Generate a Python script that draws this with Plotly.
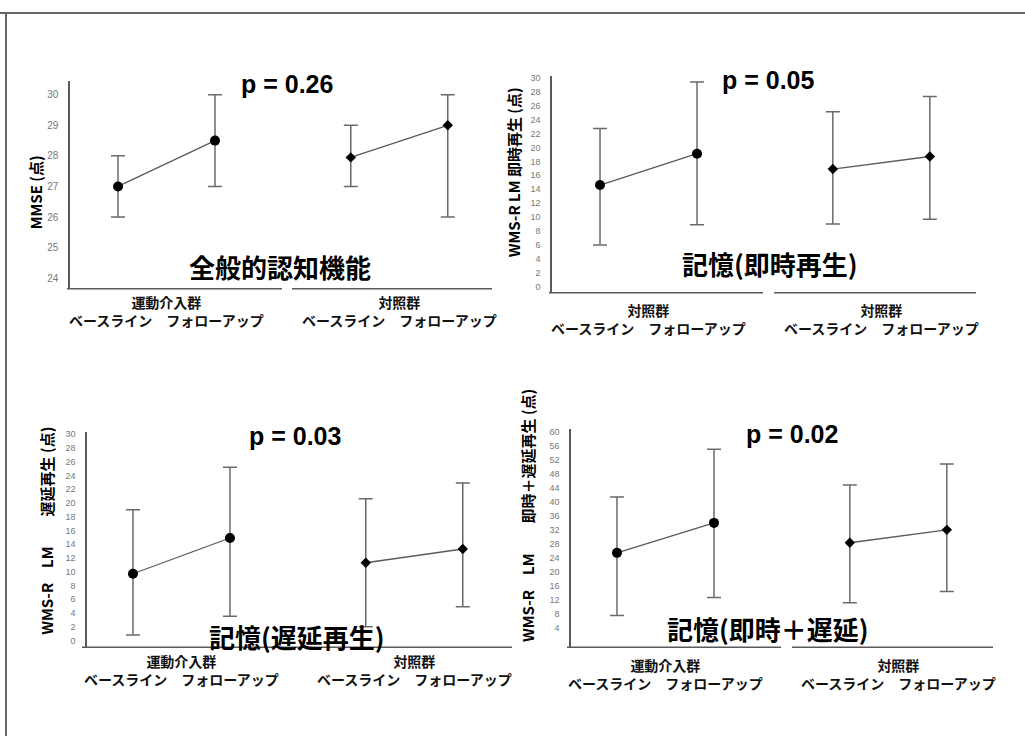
import plotly.graph_objects as go

W, H = 1025, 736

# ---------------- data ----------------
groups_p1 = ["運動介入群", "対照群"]
groups_p2 = ["対照群", "対照群"]
groups_p3 = ["運動介入群", "対照群"]
groups_p4 = ["運動介入群", "対照群"]
times = ["ベースライン", "フォローアップ"]

p_labels = ["p = 0.26", "p = 0.05", "p = 0.03", "p = 0.02"]
panel_titles = ["全般的認知機能", "記憶(即時再生)", "記憶(遅延再生)", "記憶(即時＋遅延)"]
y_titles = ["MMSE (点)", "WMS-R LM 即時再生 (点)", "WMS-R　LM　　遅延再生 (点)", "WMS-R　LM　　即時＋遅延再生 (点)"]

# values per panel: [ex base, ex follow, ctrl base, ctrl follow]
mmse_mean = [27.0, 28.5, 27.95, 29.0]
mmse_upper = [28.0, 30.0, 29.0, 30.0]
mmse_lower = [26.0, 27.0, 27.0, 26.0]

imm_mean = [14.6, 19.1, 16.9, 18.7]
imm_upper = [22.7, 29.4, 25.1, 27.3]
imm_lower = [6.0, 8.9, 9.0, 9.7]

del_mean = [9.7, 14.9, 11.3, 13.3]
del_upper = [19.0, 25.2, 20.6, 22.9]
del_lower = [0.8, 3.5, 2.0, 4.9]

tot_mean = [25.4, 34.0, 28.3, 32.0]
tot_upper = [41.4, 55.1, 44.9, 50.9]
tot_lower = [7.4, 12.6, 11.1, 14.3]

ticks_p1 = [24, 25, 26, 27, 28, 29, 30]
ticks_p23 = list(range(0, 31, 2))
ticks_p4 = list(range(4, 61, 4))

# ---------------- layout helpers ----------------
def PX(x):
    return x / W

def PY(y):
    return 1 - y / H

GROUP_GAP = 2.4

panels = [
    dict(groups=groups_p1, mean=mmse_mean, up=mmse_upper, lo=mmse_lower, ticks=ticks_p1,
         dom_x=(70, 492), dom_y=(78, 287), yr=(23.65, 30.46), xr=(-0.495, 3.856),
         segs=[(67, 282), (292, 492)], lab_y=309,
         p_pos=(287, 81), t_pos=(280, 265), yt_pos=(35, 190), tickfont=10),
    dict(groups=groups_p2, mean=imm_mean, up=imm_upper, lo=imm_lower, ticks=ticks_p23,
         dom_x=(552, 976), dom_y=(73, 291), yr=(-0.86, 30.29), xr=(-0.495, 3.876),
         segs=[(549, 763), (774, 976)], lab_y=317,
         p_pos=(768, 77), t_pos=(770, 262), yt_pos=(513, 170), tickfont=9),
    dict(groups=groups_p3, mean=del_mean, up=del_upper, lo=del_lower, ticks=ticks_p23,
         dom_x=(87, 510), dom_y=(431, 647), yr=(-1.01, 30.29), xr=(-0.474, 3.887),
         segs=[(82, 512)], lab_y=670,
         p_pos=(295, 435), t_pos=(297, 636), yt_pos=(47, 530), tickfont=9),
    dict(groups=groups_p4, mean=tot_mean, up=tot_upper, lo=tot_lower, ticks=ticks_p4,
         dom_x=(571, 993), dom_y=(428, 647), yr=(-1.71, 60.86), xr=(-0.474, 3.876),
         segs=[(567, 781), (792, 993)], lab_y=674,
         p_pos=(792, 433), t_pos=(768, 628), yt_pos=(528, 515), tickfont=9),
]

fig = go.Figure()
shapes = []
annotations = []
layout = {}

LINE_COL = "#5a5a5a"
ERR_COL = "#6a6a6a"
JP = "Noto Sans CJK JP"
LAT = "Liberation Sans"

for i, p in enumerate(panels):
    n = "" if i == 0 else str(i + 1)
    xa, ya = "x" + n, "y" + n
    for g in range(2):
        xs = [g * GROUP_GAP + t for t in range(len(times))]
        ys = p["mean"][2 * g:2 * g + 2]
        ups = [u - m for u, m in zip(p["up"][2 * g:2 * g + 2], ys)]
        los = [m - l for l, m in zip(p["lo"][2 * g:2 * g + 2], ys)]
        fig.add_trace(go.Scatter(
            x=xs, y=ys, xaxis=xa, yaxis=ya, mode="lines+markers",
            line=dict(color=LINE_COL, width=1.3),
            marker=dict(symbol="circle" if g == 0 else "diamond",
                        size=10 if g == 0 else 8, color="black"),
            error_y=dict(type="data", symmetric=False, array=ups, arrayminus=los,
                         color=ERR_COL, thickness=1.5, width=7),
            showlegend=False, hoverinfo="skip"))
        # group + time labels (two centred lines)
        annotations.append(dict(x=(xs[0] + xs[1]) / 2, y=PY(p["lab_y"]), xref=xa, yref="paper",
                                text="<b>%s<br>%s</b>" % (p["groups"][g], "　".join(times)),
                                showarrow=False, align="center",
                                font=dict(family=JP, size=14, color="#111"),
                                xanchor="center", yanchor="middle"))
    layout["xaxis" + n] = dict(domain=[PX(p["dom_x"][0]), PX(p["dom_x"][1])],
                               range=list(p["xr"]), anchor=ya, showline=False,
                               showgrid=False, zeroline=False, showticklabels=False,
                               ticks="", fixedrange=True)
    layout["yaxis" + n] = dict(domain=[PY(p["dom_y"][1]), PY(p["dom_y"][0])],
                               range=list(p["yr"]), anchor=xa, showline=True,
                               linecolor=LINE_COL, linewidth=1.5, showgrid=False,
                               zeroline=False, tickvals=p["ticks"],
                               ticktext=[str(v) for v in p["ticks"]],
                               ticks="", ticklabelstandoff=8,
                               tickfont=dict(family=LAT, size=p["tickfont"], color="#777"),
                               fixedrange=True)
    for s0, s1 in p["segs"]:
        shapes.append(dict(type="line", xref="paper", yref="paper",
                           x0=PX(s0), x1=PX(s1), y0=PY(p["dom_y"][1]), y1=PY(p["dom_y"][1]),
                           line=dict(color=LINE_COL, width=1.5)))
    annotations.append(dict(x=PX(p["p_pos"][0]), y=PY(p["p_pos"][1]), xref="paper", yref="paper",
                            text="<b>%s</b>" % p_labels[i], showarrow=False,
                            font=dict(family=LAT, size=25, color="black"),
                            xanchor="center", yanchor="middle"))
    annotations.append(dict(x=PX(p["t_pos"][0]), y=PY(p["t_pos"][1]), xref="paper", yref="paper",
                            text="<b>%s</b>" % panel_titles[i], showarrow=False,
                            font=dict(family=JP, size=26, color="black"),
                            xanchor="center", yanchor="middle"))
    annotations.append(dict(x=PX(p["yt_pos"][0]), y=PY(p["yt_pos"][1]), xref="paper", yref="paper",
                            text="<b>%s</b>" % y_titles[i], showarrow=False, textangle=-90,
                            font=dict(family=JP, size=15, color="black"),
                            xanchor="center", yanchor="middle"))

# outer frame (top and left edges)
shapes.append(dict(type="line", xref="paper", yref="paper", x0=0, x1=1,
                   y0=PY(10), y1=PY(10), line=dict(color="#666", width=2)))
shapes.append(dict(type="line", xref="paper", yref="paper", x0=PX(6), x1=PX(6),
                   y0=PY(10), y1=0, line=dict(color="#666", width=2)))

fig.update_layout(width=W, height=H, margin=dict(l=0, r=0, t=0, b=0),
                  paper_bgcolor="white", plot_bgcolor="rgba(0,0,0,0)",
                  shapes=shapes, annotations=annotations, **layout)

fig.write_html("out.html", config={"displayModeBar": False},
               post_script="document.body.style.margin='0';document.body.style.overflow='hidden';")
